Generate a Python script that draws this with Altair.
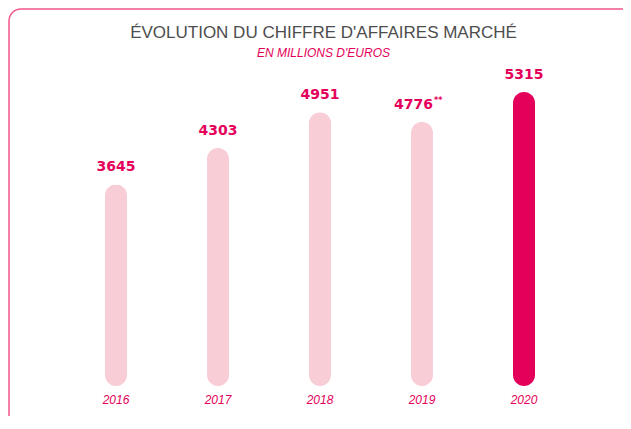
import altair as alt
import pandas as pd

years = ["2016", "2017", "2018", "2019", "2020"]
values = [3645, 4303, 4951, 4776, 5315]
value_labels = ["3645", "4303", "4951", "4776", "5315"]
label_notes = ["", "", "", "**", ""]
tones = ["past", "past", "past", "past", "current"]

df = pd.DataFrame({"year": years, "value": values, "label": value_labels,
                   "note": label_notes, "tone": tones})
frame_df = pd.DataFrame({"k": [0]})

PINK = "#e4005a"
LIGHT = "#f8cdd5"
BORDER = "#f0558a"

x_enc = alt.X(
    "year:N",
    scale=alt.Scale(range=[57, 567], paddingInner=0, paddingOuter=0),
    axis=alt.Axis(
        title=None, labelAngle=0, domain=False, ticks=False, tickSize=0, grid=False,
        labelPadding=8, labelFont="Liberation Sans", labelFontStyle="italic",
        labelFontSize=12, labelColor=PINK,
    ),
)
y_enc = alt.Y("value:Q", scale=alt.Scale(domain=[0, 5570], nice=False), axis=None)

border = alt.Chart(frame_df).mark_rect(
    fill="white", fillOpacity=0, stroke=BORDER, strokeWidth=1.5, cornerRadius=12
).encode(
    x=alt.value(1), x2=alt.value(700), y=alt.value(-69), y2=alt.value(600)
)

bars = alt.Chart(df).mark_bar(size=22, cornerRadius=11).encode(
    x=x_enc,
    y=y_enc,
    color=alt.Color("tone:N", scale=alt.Scale(domain=["past", "current"], range=[LIGHT, PINK]), legend=None),
)

text_style = dict(font="DejaVu Sans", fontWeight="bold", fontSize=14, color=PINK, baseline="alphabetic", dy=-13)

labels_plain = alt.Chart(df).transform_filter("datum.note == ''").mark_text(
    **text_style
).encode(x=x_enc, y=y_enc, text="label:N")

labels_noted = alt.Chart(df).transform_filter("datum.note != ''").mark_text(
    align="right", dx=11, **text_style
).encode(x=x_enc, y=y_enc, text="label:N")

notes = alt.Chart(df).transform_filter("datum.note != ''").mark_text(
    font="DejaVu Sans", fontWeight="bold", fontSize=8, color=PINK,
    baseline="alphabetic", align="left", dx=12, dy=-19,
).encode(x=x_enc, y=y_enc, text="note:N")

chart = alt.layer(border, bars, labels_plain, labels_noted, notes).properties(
    width=615,
    height=308,
    autosize=alt.AutoSizeParams(type="none"),
    padding={"left": 0, "top": 70, "right": 0, "bottom": 30},
    title=alt.TitleParams(
        text="ÉVOLUTION DU CHIFFRE D'AFFAIRES MARCHÉ",
        subtitle="EN MILLIONS D'EUROS",
        anchor="middle", frame="group",
        font="Liberation Sans", fontSize=17, fontWeight="normal", color="#4d4d4d",
        subtitleFont="Liberation Sans", subtitleFontSize=12, subtitleFontStyle="italic",
        subtitleColor=PINK, subtitlePadding=6, offset=-52, dx=8,
    ),
).configure(background="white").configure_view(strokeWidth=0)

chart.save("out.html", embed_options={"renderer": "svg", "actions": False})
